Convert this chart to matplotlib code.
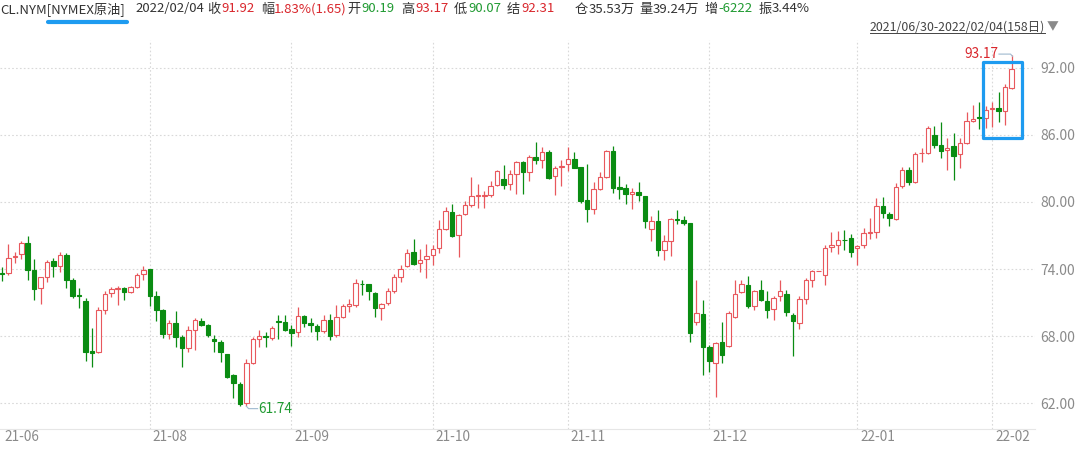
import matplotlib
matplotlib.use('Agg')
import matplotlib.pyplot as plt
from matplotlib.lines import Line2D
from matplotlib.patches import Rectangle
import matplotlib.transforms as mtransforms

plt.rcParams['font.family'] = ['Noto Sans CJK SC', 'DejaVu Sans']

# daily candles, 2021/06/30 - 2022/02/04 (158 days)
opens = [73.65, 73.62, 75.10, 75.39, 76.36, 73.91, 72.29, 73.32, 74.74, 74.27,
         75.24, 73.02, 71.65, 71.16, 66.67, 66.61, 70.37, 71.84, 72.20, 72.34,
         71.93, 72.43, 73.53, 73.97, 71.55, 70.37, 68.15, 69.20, 67.90, 66.91,
         68.55, 69.38, 69.00, 67.75, 67.51, 66.40, 64.53, 63.70, 62.00, 65.57,
         67.72, 68.00, 67.80, 69.35, 69.30, 68.61, 68.40, 69.80, 69.15, 68.90,
         68.50, 69.44, 68.10, 69.75, 70.73, 70.79, 72.70, 72.66, 71.89, 70.56,
         70.94, 72.07, 73.26, 74.30, 75.49, 74.57, 74.86, 75.25, 75.90, 77.62,
         79.11, 77.09, 78.96, 79.70, 80.54, 80.56, 80.65, 81.49, 82.02, 81.63,
         82.49, 83.54, 82.64, 83.99, 83.75, 84.44, 82.28, 83.15, 83.39, 83.84,
         83.09, 80.15, 79.34, 81.14, 82.19, 84.53, 81.35, 81.23, 80.75, 80.90,
         80.54, 77.54, 78.29, 75.74, 76.49, 78.45, 78.36, 78.15, 69.28, 70.02,
         67.05, 65.62, 67.49, 67.11, 69.73, 71.96, 72.55, 70.71, 72.11, 71.16,
         70.41, 71.57, 71.81, 69.93, 69.22, 71.36, 73.06, 73.81, 73.45, 75.98,
         76.13, 76.60, 76.75, 75.86, 76.16, 77.20, 77.35, 79.67, 78.90, 78.48,
         81.46, 82.86, 81.82, 84.35, 84.35, 85.98, 85.09, 84.64, 85.03, 84.26,
         85.24, 87.27, 87.56, 87.53, 88.31, 88.43, 88.13, 90.19]
highs = [74.20, 76.20, 75.50, 76.50, 77.00, 74.89, 73.30, 74.80, 75.03, 75.54,
         75.48, 73.17, 72.29, 71.40, 68.70, 70.60, 72.07, 72.40, 72.50, 72.43,
         72.52, 73.67, 74.27, 74.00, 72.08, 70.40, 69.48, 70.25, 68.10, 68.91,
         69.60, 69.65, 69.09, 68.10, 67.66, 66.40, 64.62, 63.94, 66.00, 67.90,
         68.55, 68.40, 68.90, 69.90, 69.90, 69.00, 70.63, 69.90, 69.60, 69.10,
         69.90, 70.00, 70.80, 70.85, 71.33, 73.10, 73.00, 72.70, 71.98, 70.94,
         72.28, 73.53, 74.36, 75.78, 76.73, 75.78, 76.20, 76.14, 78.37, 79.56,
         79.80, 78.96, 80.06, 82.23, 81.63, 81.00, 81.84, 82.82, 83.27, 82.88,
         83.69, 83.69, 84.23, 85.40, 84.95, 84.65, 83.24, 83.75, 84.95, 84.44,
         83.15, 83.39, 81.74, 82.64, 84.65, 85.04, 82.34, 81.59, 81.29, 81.74,
         80.54, 78.74, 79.25, 77.03, 78.59, 79.26, 78.72, 78.15, 73.00, 71.27,
         67.20, 67.49, 69.28, 70.26, 73.06, 73.00, 73.36, 72.17, 73.00, 72.05,
         71.57, 73.00, 72.11, 70.08, 71.57, 73.24, 73.95, 73.81, 76.13, 77.32,
         77.41, 77.47, 77.10, 76.16, 77.70, 78.60, 80.33, 80.47, 79.13, 81.67,
         83.16, 83.16, 84.50, 84.80, 86.82, 86.82, 87.17, 85.69, 86.13, 85.75,
         88.01, 88.66, 88.90, 88.60, 88.90, 89.80, 90.51, 93.17]
lows = [72.90, 73.50, 74.50, 74.86, 73.02, 71.19, 70.90, 72.80, 73.26, 73.76,
        72.29, 71.40, 70.50, 65.78, 65.20, 66.50, 70.02, 71.48, 70.80, 71.19,
        71.84, 72.29, 73.02, 70.66, 69.33, 67.85, 67.76, 67.06, 65.20, 66.61,
        66.76, 68.90, 67.95, 66.60, 65.72, 64.23, 62.45, 61.80, 61.74, 65.50,
        67.06, 67.06, 67.66, 67.72, 68.50, 67.12, 67.90, 68.85, 68.40, 67.70,
        68.25, 67.70, 67.95, 69.60, 70.20, 70.64, 71.70, 71.24, 69.75, 69.46,
        70.79, 71.83, 72.87, 74.20, 74.36, 73.76, 73.20, 74.36, 75.40, 77.48,
        76.88, 75.10, 78.81, 79.56, 79.47, 79.47, 80.44, 81.43, 81.19, 81.10,
        80.75, 80.75, 81.83, 83.39, 83.03, 82.04, 80.63, 81.44, 82.79, 83.00,
        79.94, 78.23, 78.95, 81.05, 82.13, 80.84, 80.24, 79.85, 79.34, 80.09,
        77.69, 76.49, 75.14, 74.84, 75.14, 78.06, 77.92, 67.49, 68.98, 64.51,
        64.81, 62.52, 65.62, 67.05, 69.58, 71.87, 70.56, 70.38, 71.15, 69.58,
        69.49, 71.15, 69.79, 66.21, 68.68, 70.92, 72.41, 73.81, 72.56, 75.53,
        75.38, 75.68, 75.11, 74.37, 75.92, 76.69, 76.81, 78.54, 77.88, 78.39,
        81.28, 81.52, 81.67, 83.60, 84.26, 84.85, 83.90, 82.86, 81.96, 83.07,
        85.15, 87.18, 86.52, 86.58, 86.73, 87.18, 86.88, 90.07]
closes = [73.60, 75.03, 75.20, 76.36, 73.91, 72.23, 73.26, 74.65, 74.27, 75.24,
          73.02, 71.60, 71.60, 66.61, 66.52, 70.37, 71.78, 72.23, 72.34, 71.99,
          72.37, 73.47, 73.91, 71.60, 70.37, 68.15, 69.18, 67.90, 66.91, 68.55,
          69.44, 69.00, 68.10, 67.57, 66.61, 64.38, 63.79, 61.94, 65.57, 67.72,
          68.00, 67.95, 68.70, 69.24, 68.55, 68.31, 69.80, 69.20, 69.00, 68.50,
          69.44, 68.00, 69.74, 70.70, 70.85, 72.72, 72.62, 72.07, 70.56, 70.85,
          72.04, 73.26, 74.00, 75.46, 74.42, 74.80, 75.19, 75.78, 77.62, 79.17,
          76.97, 78.87, 79.70, 80.54, 80.60, 80.66, 81.43, 82.73, 81.54, 82.46,
          83.54, 82.64, 84.05, 83.78, 84.50, 82.13, 83.03, 83.24, 83.84, 83.03,
          80.09, 79.34, 81.14, 82.19, 84.59, 81.29, 81.20, 80.69, 80.93, 80.60,
          78.29, 78.29, 75.68, 76.49, 78.44, 78.40, 78.15, 68.24, 70.08, 67.05,
          65.80, 67.40, 66.30, 70.08, 71.75, 72.64, 70.68, 72.02, 71.21, 70.38,
          71.45, 72.02, 70.17, 69.34, 71.36, 73.06, 73.81, 73.81, 75.92, 76.13,
          76.64, 76.56, 75.56, 76.10, 77.20, 77.29, 79.67, 78.99, 78.54, 81.37,
          82.86, 81.82, 84.29, 84.40, 86.64, 85.09, 84.56, 84.85, 84.14, 85.24,
          87.24, 87.38, 87.47, 88.22, 88.43, 88.13, 90.24, 91.92]

month_idx = [0, 23, 45, 67, 88, 110, 133, 154]
month_labels = ['21-06', '21-08', '21-09', '21-10', '21-11', '21-12', '22-01', '22-02']
y_ticks = [62, 68, 74, 80, 86, 92]

header = [(0, 'CL.NYM[NYMEX原油]', 'dark'), (135, '2022/02/04', 'dark'),
          (207, '收', 'dark'), (221, '91.92', 'red'),
          (261, '幅', 'dark'), (274, '1.83%(1.65)', 'red'),
          (347, '开', 'dark'), (361, '90.19', 'green'),
          (401, '高', 'dark'), (415, '93.17', 'red'),
          (454, '低', 'dark'), (468, '90.07', 'green'),
          (507, '结', 'dark'), (521, '92.31', 'red'),
          (575, '仓', 'dark'), (589, '35.53万', 'dark'),
          (639, '量', 'dark'), (653, '39.24万', 'dark'),
          (704, '增', 'dark'), (718, '-6222', 'green'),
          (759, '振', 'dark'), (772, '3.44%', 'dark')]
range_label = '2021/06/30-2022/02/04(158日)'

UP = '#e8585d'
DOWN = '#0a8c12'
TXT = {'dark': '#333333', 'red': '#d9262c', 'green': '#1f9a31'}
GRID = '#d9d9d9'
AXIS_TXT = '#8a8a8a'
BLUE = '#1e9bf0'

W, H = 1080, 449
fig = plt.figure(figsize=(W / 100, H / 100), dpi=100)


def fx(px):
    return px / W


def fy(py):
    return 1 - py / H


# plot area in pixels: x 0..1035, y 40..429
ax = fig.add_axes([0, fy(429), fx(1035), (429 - 40) / H])
ax.set_xlim(-0.31, 160.65)
ax.set_ylim(59.70, 94.48)

for s in ['top', 'left', 'right']:
    ax.spines[s].set_visible(False)
ax.spines['bottom'].set_color('#e6e6e6')
ax.spines['bottom'].set_linewidth(0.8)

for v in y_ticks:
    ax.axhline(v, color=GRID, lw=0.8, ls=(0, (1.5, 2)), zorder=0)
for m in month_idx[1:]:
    ax.axvline(m, color=GRID, lw=0.8, ls=(0, (1.5, 2)), zorder=0)

# candles
for i in range(len(opens)):
    o, h, l, c = opens[i], highs[i], lows[i], closes[i]
    up = c >= o
    col = UP if up else DOWN
    ax.vlines(i, l, h, color=col, lw=0.9, zorder=2)
    body = max(abs(c - o), 0.04)
    ax.bar(i, body, bottom=min(o, c), width=0.7,
           facecolor='white' if up else col, edgecolor=col,
           linewidth=0.8, zorder=3)

# max / min markers
i_max = max(range(len(highs)), key=lambda k: highs[k])
i_min = min(range(len(lows)), key=lambda k: lows[k])
hi, lo = highs[i_max], lows[i_min]
ax.plot([i_max - 1.95, i_max - 0.15, i_max + 0.15], [hi + 0.05, hi + 0.05, hi - 0.15],
        color='#9fb9cf', lw=0.8, zorder=4)
ax.text(i_max - 2.05, hi + 0.05, f'{hi:.2f}', color=TXT['red'], fontsize=9.8,
        ha='right', va='center', zorder=5)
ax.plot([i_min, i_min + 0.35, i_min + 1.75], [lo, lo - 0.22, lo - 0.22],
        color='#9fb9cf', lw=0.8, zorder=4)
ax.text(i_min + 1.9, lo - 0.22, f'{lo:.2f}', color=TXT['green'], fontsize=9.8,
        ha='left', va='center', zorder=5)

# highlight box around the last week
ax.add_patch(Rectangle((152.5, 85.75), 6.2, 6.8, fill=False, edgecolor=BLUE,
                       lw=2.3, joinstyle='round', zorder=6, clip_on=False))

# axis labels
ax.set_xticks([])
ax.yaxis.tick_right()
ax.set_yticks(y_ticks)
ax.set_yticklabels([f'{v:.2f}' for v in y_ticks], color=AXIS_TXT, fontsize=10)
ax.tick_params(axis='y', length=0, pad=4)
xt = mtransforms.blended_transform_factory(ax.transData, ax.transAxes)
for m, lab in zip(month_idx, month_labels):
    ax.text(m + 0.45, -(437 - 429) / 389, lab, transform=xt, color=AXIS_TXT,
            fontsize=9.8, ha='left', va='center')

# header line
for x, s, c in header:
    fig.text(fx(x), fy(9), s, color=TXT[c], fontsize=9.5, ha='left', va='center')
fig.add_artist(Line2D([fx(48), fx(127)], [fy(21.5), fy(21.5)], color=BLUE, lw=3,
                      solid_capstyle='round'))

rt = fig.text(fx(1045), fy(27), range_label, color='#444444', fontsize=8.9,
              ha='right', va='center')
fig.text(fx(1047), fy(27), '▼', color='#8a8a8a', fontsize=8.5, ha='left', va='center')
fig.canvas.draw()
bb = rt.get_window_extent()
fig.add_artist(Line2D([fx(bb.x0), fx(bb.x1)], [fy(33), fy(33)], color='#444444', lw=0.7))

fig.savefig('out.png', dpi=100)
